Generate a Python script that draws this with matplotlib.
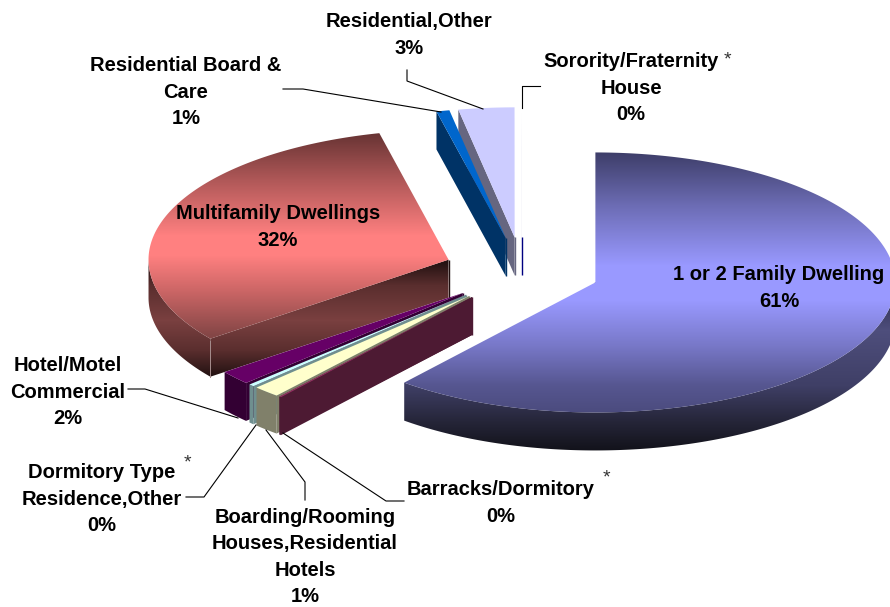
import numpy as np
import matplotlib
matplotlib.use("Agg")
import matplotlib.pyplot as plt
from matplotlib.colors import to_rgb
from matplotlib.patches import Polygon

plt.rcParams['font.family'] = ['Liberation Sans', 'DejaVu Sans']

# ---- data (clockwise from 12 o'clock) ----
categories = ["1 or 2 Family Dwelling", "Barracks/Dormitory", "Boarding/Rooming\nHouses,Residential\nHotels",
              "Dormitory Type\nResidence,Other", "Hotel/Motel\nCommercial", "Multifamily Dwellings",
              "Residential Board &\nCare", "Residential,Other", "Sorority/Fraternity\nHouse"]
values = [61.0, 0.1, 1.45, 0.3, 1.75, 31.7, 0.7, 3.0, 0.005]
starred = ["Barracks/Dormitory", "Dormitory Type\nResidence,Other", "Sorority/Fraternity\nHouse"]

# ---- styles ----
top_colors = [
    [(150, "#3c3c66"), (205, "#6c6cb4"), (265, "#9999ff"), (300, "#9999ff"), (345, "#7878c8"), (385, "#565690"), (415, "#4a4a7c")],
    [(0, "#993366")], [(0, "#ffffcc")], [(0, "#ccffff")], [(0, "#660066")],
    [(132, "#663333"), (180, "#b05858"), (235, "#ff8080"), (255, "#ff8080"), (290, "#cc6666"), (335, "#844646")],
    [(0, "#0066cc")], [(0, "#ccccff")], [(0, "#000080")],
]
rim_colors = [
    [(300, "#35355a"), (330, "#4e4e7c"), (385, "#3f3f66"), (420, "#26263a"), (450, "#12121a")],
    [(0, "#4d1a33")], [(0, "#80806a")], [(0, "#6f8f8f")], [(0, "#330033")],
    [(262, "#241212"), (285, "#5a2e2e"), (320, "#7a4040"), (350, "#5a2e2e"), (378, "#1e0f0f")],
    [(0, "#003366")], [(0, "#666680")], [(0, "#000080")],
]
wall_colors = [
    [(0, "#44446f")], [(0, "#4d1a33")], [(0, "#80806a")], [(0, "#6f8f8f")], [(0, "#330033")],
    [(262, "#241212"), (285, "#5a2e2e"), (320, "#7a4040"), (350, "#5a2e2e"), (378, "#1e0f0f")],
    [(0, "#003366")], [(0, "#666680")], [(0, "#000080")],
]
CX, CY, RX, RY, EXPLODE, DEPTH = 522, 271, 300, 130, 0.26, 38

fig = plt.figure(figsize=(8.9, 6.07), dpi=100)
ax = fig.add_axes([0, 0, 1, 1])
ax.axis("off")


def ramp(stops, y):
    ys = [s[0] for s in stops]
    rgb = np.array([to_rgb(s[1]) for s in stops])
    return np.stack([np.interp(y, ys, rgb[:, i]) for i in range(3)], axis=-1)


def fill(verts, stops, z):
    verts = np.asarray(verts)
    patch = Polygon(verts, closed=True, transform=ax.transData, fc="none", ec="none")
    ax.add_patch(patch)
    ys = np.arange(0, 607)
    img = ramp(stops, ys)[:, None, :]
    im = ax.imshow(img, extent=(0, 890, 607, 0), aspect="auto", zorder=z, interpolation="nearest")
    im.set_clip_path(patch)


angles = np.cumsum([0] + values) / sum(values) * 360
z = 1
order = [8, 7, 6, 5, 4, 3, 2, 1, 0]
for i in order:
    a0, a1 = angles[i], angles[i + 1]
    mid = np.radians((a0 + a1) / 2)
    ax_, ay_ = CX + EXPLODE * RX * np.sin(mid), CY - EXPLODE * RY * np.cos(mid)
    A = np.array([ax_, ay_])
    t = np.radians(np.linspace(a0, a1, max(int(a1 - a0) * 2, 2) + 1))
    arc = np.column_stack([ax_ + RX * np.sin(t), ay_ - RY * np.cos(t)])
    M = arc[len(arc) // 2]
    down = np.array([0, DEPTH])
    # apex edge, hidden beneath the surface unless the slice is a sliver
    ax.plot([ax_, ax_], [ay_, ay_ + DEPTH], color=wall_colors[i][-1][1], lw=1, zorder=z, solid_capstyle="butt")
    z += 1
    # cut walls
    for P in (arc[0], arc[-1]):
        d = P - A
        if abs(d[0]) > 1e-6:
            yline = A[1] + d[1] * (M[0] - A[0]) / d[0]
            if M[1] < yline or i == 1:
                fill([A, P, P + down, A + down], wall_colors[i], z)
                z += 1
    # rim (front half only)
    lo, hi = max(a0, 90), min(a1, 270)
    if hi > lo:
        tr = np.radians(np.linspace(lo, hi, 200))
        rim = np.column_stack([ax_ + RX * np.sin(tr), ay_ - RY * np.cos(tr)])
        fill(np.vstack([rim, (rim + down)[::-1]]), rim_colors[i], z)
        z += 1
        if i == 5:
            ax.plot([arc[0, 0]] * 2, [arc[0, 1] + 2, arc[0, 1] + DEPTH],
                    color="#a58c8c", lw=0.7, zorder=z + 3)
    # top surface (a sliver with next to no share draws only its apex edge)
    if values[i] >= 0.05:
        fill(np.vstack([A, arc]), top_colors[i], z)
    z += 1

# ---- labels ----
label_pos = {
    "1 or 2 Family Dwelling": (779, 288),
    "Barracks/Dormitory": (501, 503),
    "Boarding/Rooming\nHouses,Residential\nHotels": (305, 557),
    "Dormitory Type\nResidence,Other": (102, 499),
    "Hotel/Motel\nCommercial": (68, 392),
    "Multifamily Dwellings": (278, 227),
    "Residential Board &\nCare": (186, 92),
    "Residential,Other": (409, 35),
    "Sorority/Fraternity\nHouse": (631, 88),
}
star_pos = {
    "Barracks/Dormitory": (606, 478),
    "Dormitory Type\nResidence,Other": (187, 463),
    "Sorority/Fraternity\nHouse": (727, 60),
}
for name, v in zip(categories, values):
    x, y = label_pos[name]
    ax.text(x, y, f"{name}\n{round(v)}%", ha="center", va="center", fontsize=14.5,
            fontweight="bold", color="black", linespacing=1.5, zorder=500)
for name in starred:
    x, y = star_pos[name]
    ax.text(x, y, "*", ha="center", va="center", fontsize=14, color="#333333", zorder=500)

leaders = [
    ([407, 407, 483], [70, 81, 109]),
    ([283, 303, 441], [89, 89, 112]),
    ([540, 522, 522], [86, 86, 108]),
    ([128, 145, 238], [389, 389, 418]),
    ([186, 204, 256], [497, 497, 425]),
    ([305, 305, 266], [500, 482, 430]),
    ([404, 386, 283], [501, 501, 433]),
]
for lx, ly in leaders:
    ax.plot(lx, ly, color="black", lw=0.8, zorder=400)

ax.set_xlim(0, 890)
ax.set_ylim(607, 0)
fig.savefig("out.png", dpi=100, facecolor="white")
